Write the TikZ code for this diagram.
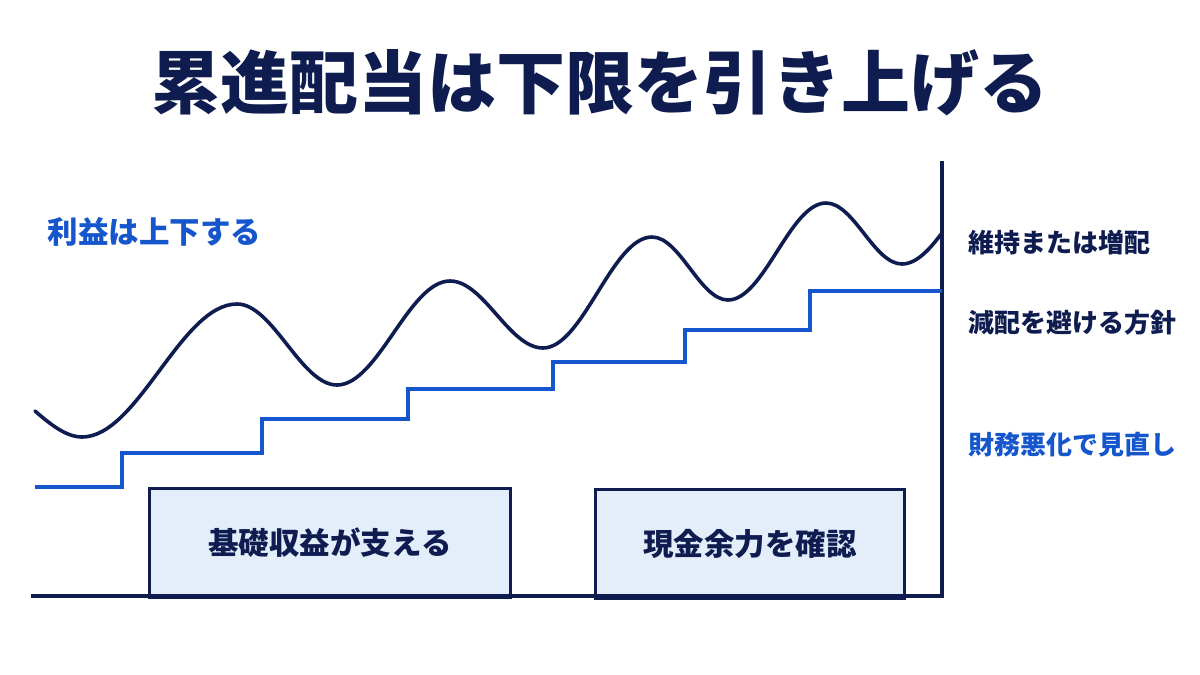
\documentclass[tikz,border=0pt]{standalone}
\usepackage{fontspec}
\setmainfont{Noto Sans CJK JP}
\usepackage{xcolor}
\usepackage{tikz}
\usetikzlibrary{positioning,calc}
\definecolor{navy}{HTML}{0E1C50}
\definecolor{accent}{HTML}{1656CC}
\definecolor{boxfill}{HTML}{E4EDFA}

\begin{document}
\begin{tikzpicture}[x=1pt,y=-1pt,
  axis/.style={navy,line width=3.6pt},
  wave/.style={navy,line width=3.6pt,line cap=round},
  stair/.style={accent,line width=3.4pt},
  basebox/.style={draw=navy,line width=3pt,fill=boxfill,inner sep=0pt,anchor=north west,
    font=\fontsize{30.5}{34}\selectfont\bfseries,text=navy},
  lab/.style={font=\fontsize{26}{30}\selectfont\bfseries,anchor=west}]
  \useasboundingbox (0,0) rectangle (1200,675);
  \node[font=\fontsize{69}{72}\selectfont\bfseries,text=navy] (title) at (600,83) {累進配当は下限を引き上げる};
  % boxes under the baseline
  \node[basebox,minimum width=361pt,minimum height=109pt] (core) at (148,487) {基礎収益が支える};
  \node[basebox,minimum width=309pt,minimum height=109pt] (cash) at (594,488) {現金余力を確認};
  % axes
  \coordinate (top) at (942,161);
  \coordinate (corner) at (942,596);
  \coordinate (origin) at (31,596);
  \draw[axis] (top) -- (corner) -- (origin);
  % dividend steps
  \draw[stair] (35,487) -- (122,487) -- (122,453) -- (262,453) -- (262,419) -- (408,419)
    -- (408,389) -- (553,389) -- (553,362) -- (685,362) -- (685,330) -- (810,330)
    -- (810,291) -- (942,291);
  % profit wave
  \draw[wave] (35,411) .. controls (50,424) and (66,437) .. (82,437)
    .. controls (138,437) and (181,304) .. (237,304)
    .. controls (273,304) and (301,385) .. (337,385)
    .. controls (378,385) and (409,281) .. (450,281)
    .. controls (484,281) and (509,348) .. (543,348)
    .. controls (583,348) and (612,237) .. (652,237)
    .. controls (680,237) and (700,300) .. (728,300)
    .. controls (764,300) and (790,203) .. (826,203)
    .. controls (854,203) and (874,264) .. (902,264)
    .. controls (918,264) and (932,246) .. (942,233);
  % labels
  \node[lab,text=accent,font=\fontsize{30.5}{34}\selectfont\bfseries] (profit) at (44,231.5) {利益は上下する};
  \foreach \y/\lab/\nm/\col in {243/維持または増配/keep/navy,323/減配を避ける方針/avoid/navy,445/財務悪化で見直し/review/accent} {
    \node[lab,text=\col] (\nm) at (965,\y) {\lab};
  }
\end{tikzpicture}
\end{document}
